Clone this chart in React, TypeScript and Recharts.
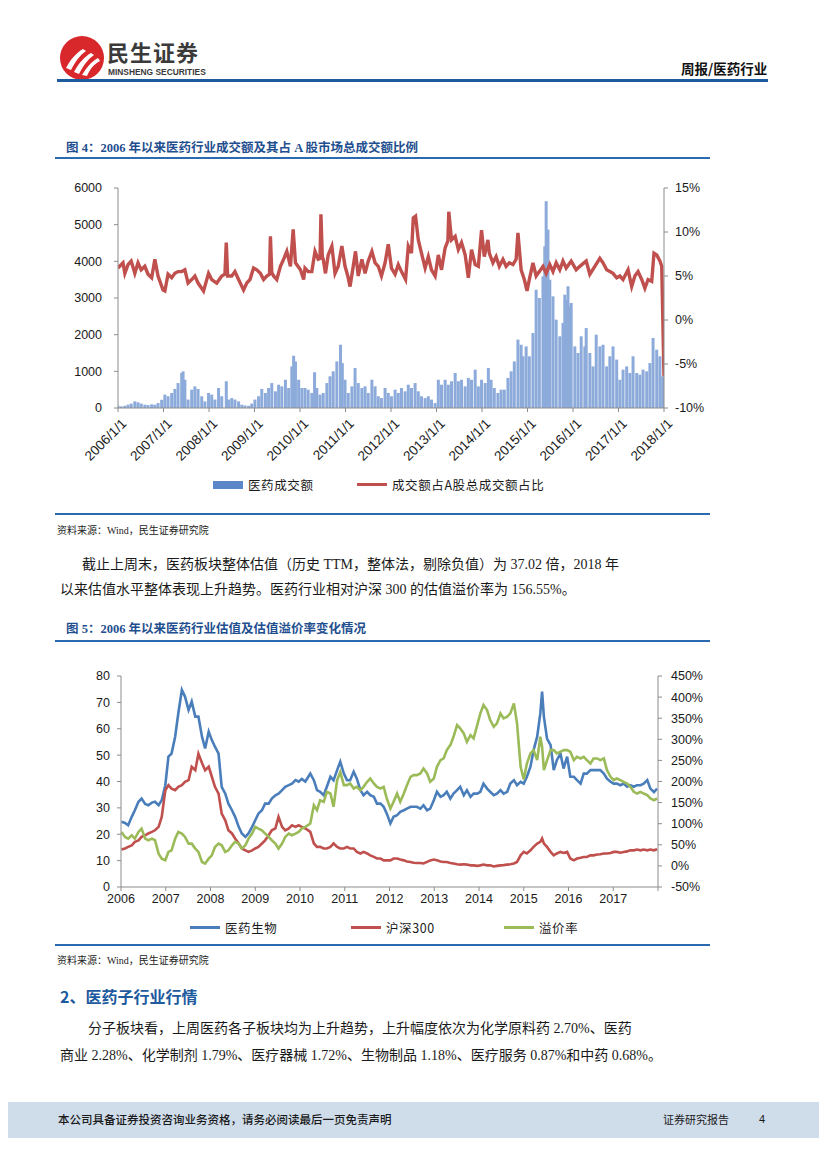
import React from "react";
import { ComposedChart, LineChart, Bar, Line, XAxis, YAxis } from "recharts";

// ---------- 图4: 医药成交额 (亿元) + 占A股成交额比例 (%) ----------
const amtT = [
  2006.0, 2006.07, 2006.15, 2006.22, 2006.29, 2006.37, 2006.44, 2006.51, 2006.59, 2006.66, 2006.74, 2006.81, 2006.88, 2006.96,
  2007.03, 2007.1, 2007.18, 2007.25, 2007.32, 2007.4, 2007.43, 2007.47, 2007.54, 2007.62, 2007.69, 2007.76, 2007.84, 2007.91, 2007.99,
  2008.06, 2008.13, 2008.21, 2008.28, 2008.38, 2008.43, 2008.5, 2008.57, 2008.65, 2008.72, 2008.79, 2008.87, 2008.94,
  2009.01, 2009.09, 2009.16, 2009.24, 2009.31, 2009.38, 2009.46, 2009.53, 2009.6, 2009.68, 2009.75, 2009.82, 2009.86, 2009.9, 2009.97,
  2010.04, 2010.11, 2010.18, 2010.26, 2010.32, 2010.37, 2010.44, 2010.51, 2010.59, 2010.66, 2010.73, 2010.81, 2010.89, 2010.93, 2010.99,
  2011.06, 2011.14, 2011.21, 2011.28, 2011.36, 2011.43, 2011.5, 2011.58, 2011.65, 2011.72, 2011.79, 2011.87, 2011.94,
  2012.01, 2012.09, 2012.16, 2012.23, 2012.31, 2012.38, 2012.45, 2012.53, 2012.6, 2012.67, 2012.75, 2012.82, 2012.89, 2012.97,
  2013.04, 2013.11, 2013.19, 2013.26, 2013.33, 2013.41, 2013.48, 2013.55, 2013.63, 2013.7, 2013.77, 2013.85, 2013.92, 2013.99,
  2014.07, 2014.14, 2014.2, 2014.27, 2014.35, 2014.42, 2014.49, 2014.57, 2014.64, 2014.71, 2014.79, 2014.86, 2014.9, 2014.97,
  2015.04, 2015.12, 2015.19, 2015.26, 2015.34, 2015.38, 2015.41, 2015.45, 2015.49, 2015.56, 2015.63, 2015.71, 2015.78, 2015.82, 2015.85, 2015.89, 2015.93, 2015.96,
  2016.04, 2016.11, 2016.18, 2016.26, 2016.29, 2016.37, 2016.44, 2016.51, 2016.59, 2016.66, 2016.74, 2016.81, 2016.88, 2016.96,
  2017.03, 2017.1, 2017.18, 2017.25, 2017.32, 2017.4, 2017.47, 2017.54, 2017.62, 2017.69, 2017.76, 2017.84, 2017.91, 2017.97,
];
const amtV = [
  60, 45, 60, 90, 120, 180, 155, 120, 90, 80, 100, 90, 135, 225,
  365, 320, 410, 520, 680, 955, 1000, 770, 230, 500, 590, 520, 320, 180, 410,
  365, 230, 545, 320, 730, 230, 270, 230, 180, 90, 70, 60, 120,
  230, 320, 520, 410, 545, 680, 455, 635, 590, 770, 545, 1135, 1425, 1270, 770,
  545, 545, 500, 410, 975, 545, 365, 410, 680, 865, 1000, 1270, 1725, 1225, 770,
  410, 590, 1090, 680, 545, 590, 410, 770, 590, 320, 270, 545, 410,
  320, 500, 410, 545, 455, 635, 545, 680, 455, 320, 270, 320, 230, 135,
  770, 635, 770, 635, 730, 955, 730, 770, 590, 820, 770, 1045, 590, 770,
  680, 1090, 770, 545, 410, 500, 500, 820, 1000, 1270, 1865, 1725, 1410, 1680,
  1410, 2045, 3225, 3000, 3590, 4410, 5640, 4865, 3500, 3045, 2410, 1955, 2320, 3090, 2955, 3320, 2775, 2865,
  1680, 1500, 1955, 1680, 2180, 1500, 1135, 2000, 1680, 1725, 1135, 1410, 1680, 1320,
  770, 1045, 1135, 955, 1410, 955, 910, 1045, 1000, 1225, 1910, 1590, 1410, 865,
];
const ratioT = [
  2006.0, 2006.11, 2006.15, 2006.22, 2006.29, 2006.37, 2006.44, 2006.51, 2006.59, 2006.66, 2006.74, 2006.81, 2006.88, 2006.99,
  2007.03, 2007.1, 2007.18, 2007.25, 2007.32, 2007.4, 2007.47, 2007.54, 2007.62, 2007.69, 2007.76, 2007.88, 2007.99,
  2008.06, 2008.17, 2008.28, 2008.35, 2008.38, 2008.41, 2008.5, 2008.57, 2008.65, 2008.76, 2008.83, 2008.9, 2008.98,
  2009.05, 2009.13, 2009.2, 2009.27, 2009.33, 2009.35, 2009.38, 2009.42, 2009.49, 2009.57, 2009.64, 2009.71, 2009.79, 2009.85, 2009.9,
  2010.01, 2010.08, 2010.11, 2010.18, 2010.26, 2010.33, 2010.4, 2010.44, 2010.46, 2010.49, 2010.51, 2010.56, 2010.62, 2010.7, 2010.77, 2010.84, 2010.92, 2010.99,
  2011.05, 2011.1, 2011.17, 2011.22, 2011.28, 2011.36, 2011.43, 2011.5, 2011.58, 2011.65, 2011.72, 2011.79, 2011.87, 2011.94,
  2012.01, 2012.09, 2012.16, 2012.23, 2012.32, 2012.38, 2012.45, 2012.49, 2012.54, 2012.6, 2012.67, 2012.75, 2012.82, 2012.89, 2012.97,
  2013.04, 2013.11, 2013.19, 2013.25, 2013.27, 2013.33, 2013.41, 2013.48, 2013.55, 2013.63, 2013.7, 2013.77, 2013.85, 2013.92, 2013.99,
  2014.05, 2014.13, 2014.16, 2014.24, 2014.31, 2014.38, 2014.46, 2014.53, 2014.6, 2014.68, 2014.75, 2014.79, 2014.86, 2014.93, 2014.99,
  2015.04, 2015.12, 2015.19, 2015.26, 2015.34, 2015.41, 2015.49, 2015.56, 2015.63, 2015.71, 2015.78, 2015.85, 2015.96,
  2016.07, 2016.15, 2016.29, 2016.37, 2016.48, 2016.59, 2016.66, 2016.74, 2016.81, 2016.88, 2016.96,
  2017.03, 2017.1, 2017.21, 2017.29, 2017.36, 2017.43, 2017.51, 2017.58, 2017.65, 2017.73, 2017.78, 2017.84, 2017.91, 2017.95,
  2018.0,
];
const ratioV = [
  5.9, 6.5, 5.3, 6.3, 6.7, 5.3, 6.5, 5.7, 6.1, 5.2, 4.8, 6.9, 5.0, 3.4,
  3.3, 5.2, 4.8, 5.3, 5.5, 5.5, 5.7, 4.2, 4.6, 5.0, 4.2, 3.3, 5.3,
  4.6, 4.2, 5.0, 5.2, 8.8, 5.0, 5.0, 5.5, 4.6, 3.4, 4.2, 4.6, 5.9,
  5.7, 5.3, 4.6, 5.0, 5.2, 9.5, 5.4, 5.0, 4.6, 6.1, 6.9, 7.8, 6.1, 10.3, 6.5,
  5.7, 4.6, 5.9, 5.5, 5.5, 7.8, 6.9, 7.0, 12.0, 7.2, 6.9, 5.3, 7.4, 8.4, 5.3, 6.1, 8.4, 6.1,
  5.0, 3.8, 6.1, 7.8, 5.0, 6.9, 5.3, 6.7, 7.8, 6.5, 6.1, 5.0, 6.5, 8.6,
  5.9, 5.2, 6.3, 5.5, 4.6, 8.4, 7.6, 11.6, 11.8, 9.1, 7.6, 5.9, 7.2, 5.7, 5.0,
  7.4, 5.7, 8.2, 9.0, 12.3, 9.1, 9.5, 8.0, 8.8, 7.4, 4.8, 8.0, 6.3, 6.1, 10.2,
  7.2, 9.1, 7.6, 6.5, 7.2, 6.1, 6.9, 6.1, 6.5, 6.3, 6.9, 9.9, 5.7, 4.6, 3.3,
  4.6, 6.5, 5.0, 5.5, 6.1, 5.3, 6.3, 5.5, 6.5, 5.7, 6.7, 5.9, 6.7,
  5.7, 6.1, 6.7, 5.2, 6.1, 7.0, 6.5, 5.7, 5.5, 5.3, 4.8,
  5.0, 4.6, 5.7, 3.8, 5.0, 5.5, 4.6, 3.6, 4.6, 4.4, 7.6, 7.4, 6.7, 6.1,
  -6.4,
];

// ---------- 图5: 估值 (PE) 与溢价率 (%) ----------
const valT = [
  2006.01, 2006.09, 2006.16, 2006.24, 2006.31, 2006.39, 2006.46, 2006.54, 2006.61, 2006.69, 2006.76, 2006.84, 2006.91, 2006.99,
  2007.06, 2007.13, 2007.21, 2007.28, 2007.36, 2007.43, 2007.51, 2007.58, 2007.66, 2007.73, 2007.81, 2007.88, 2007.96,
  2008.03, 2008.1, 2008.18, 2008.25, 2008.33, 2008.4, 2008.48, 2008.55, 2008.63, 2008.7, 2008.78, 2008.85, 2008.93,
  2009.0, 2009.07, 2009.15, 2009.22, 2009.3, 2009.37, 2009.45, 2009.52, 2009.6, 2009.67, 2009.75, 2009.82, 2009.9, 2009.97,
  2010.04, 2010.12, 2010.23, 2010.31, 2010.38, 2010.45, 2010.53, 2010.6, 2010.68, 2010.75, 2010.83, 2010.9, 2010.98,
  2011.05, 2011.12, 2011.2, 2011.27, 2011.35, 2011.42, 2011.5, 2011.57, 2011.65, 2011.72, 2011.8, 2011.87, 2011.94,
  2012.02, 2012.09, 2012.17, 2012.24, 2012.32, 2012.39, 2012.47, 2012.54, 2012.61, 2012.69, 2012.76, 2012.84, 2012.91, 2012.99,
  2013.06, 2013.14, 2013.21, 2013.28, 2013.36, 2013.43, 2013.51, 2013.58, 2013.66, 2013.73, 2013.81, 2013.88, 2013.96,
  2014.03, 2014.1, 2014.18, 2014.25, 2014.33, 2014.4, 2014.48, 2014.55, 2014.63, 2014.7, 2014.78, 2014.85, 2014.93,
  2015.0, 2015.07, 2015.15, 2015.22, 2015.3, 2015.37, 2015.41, 2015.45, 2015.52, 2015.6, 2015.67, 2015.74, 2015.82, 2015.89, 2015.97,
  2016.04, 2016.12, 2016.19, 2016.27, 2016.34, 2016.41, 2016.49, 2016.56, 2016.64, 2016.71, 2016.79, 2016.86, 2016.94,
  2017.01, 2017.08, 2017.16, 2017.23, 2017.31, 2017.38, 2017.46, 2017.53, 2017.61, 2017.68, 2017.76, 2017.83, 2017.91, 2017.98,
];
const pharmaPE = [
  24.7, 24.3, 23.4, 26.6, 29.1, 32.3, 33.5, 31.5, 31.0, 32.0, 32.3, 31.0, 32.9, 38.6,
  49.4, 50.6, 57.0, 65.8, 74.7, 72.2, 67.1, 70.3, 64.6, 64.6, 57.0, 52.5, 58.9,
  55.7, 53.2, 50.6, 38.0, 35.4, 31.6, 29.1, 26.6, 22.8, 20.3, 19.0, 20.3, 22.8,
  25.3, 27.8, 29.1, 31.6, 31.6, 33.5, 34.8, 35.4, 36.7, 38.0, 38.6, 39.2, 40.5, 39.9,
  41.0, 40.0, 43.0, 40.5, 36.7, 36.1, 34.8, 38.0, 41.8, 40.5, 44.3, 47.5, 43.0,
  40.5, 40.5, 43.7, 41.1, 36.7, 34.8, 36.1, 34.8, 34.2, 31.6, 31.6, 30.4, 27.8,
  24.1, 26.6, 27.2, 28.5, 29.1, 29.7, 30.4, 30.4, 30.4, 29.7, 31.0, 29.1, 29.7, 32.9,
  36.1, 34.2, 34.8, 36.1, 33.5, 35.4, 36.7, 38.0, 34.8, 36.7, 34.2, 35.4, 35.4,
  36.1, 39.2, 37.3, 36.1, 34.8, 35.4, 36.7, 35.4, 36.1, 39.2, 40.5, 38.6, 39.9,
  39.2, 41.8, 45.6, 51.9, 57.0, 65.8, 74.1, 64.6, 56.3, 53.8, 44.3, 48.1, 50.6, 44.9, 49.4,
  41.8, 41.8, 40.5, 39.2, 43.0, 43.0, 44.3, 44.3, 44.3, 44.3, 43.0, 41.1, 39.9,
  39.2, 39.2, 38.6, 39.2, 38.0, 38.6, 38.0, 38.6, 38.6, 39.2, 40.5, 37.3, 36.0, 37.3,
];
const hs300PE = [
  14.2, 14.6, 15.2, 15.8, 17.1, 17.7, 19.0, 19.6, 20.3, 20.9, 21.5, 22.8, 26.6, 36.7,
  38.6, 37.3, 36.7, 38.0, 38.6, 39.9, 40.5, 45.6, 44.3, 50.5, 47.0, 44.3, 45.6,
  41.8, 38.0, 35.4, 27.8, 25.3, 21.5, 20.3, 18.4, 16.5, 14.6, 13.9, 13.3, 13.9,
  14.6, 15.2, 16.5, 17.7, 19.6, 21.5, 22.2, 26.6, 22.8, 21.5, 22.2, 23.4, 22.8, 23.4,
  22.8, 22.2, 20.9, 16.5, 15.2, 15.2, 14.6, 14.6, 15.2, 16.5, 15.2, 14.6, 14.6,
  15.2, 14.6, 14.6, 13.3, 12.7, 13.3, 12.7, 12.0, 11.4, 10.8, 10.8, 10.1, 10.1,
  10.1, 10.8, 10.8, 10.4, 10.1, 9.7, 9.5, 9.2, 9.1, 9.1, 8.9, 9.5, 10.1, 10.4,
  10.1, 9.7, 9.5, 9.5, 9.1, 8.9, 8.6, 8.5, 8.6, 8.5, 8.2, 8.2, 8.0,
  8.2, 8.5, 8.2, 8.2, 7.8, 8.0, 8.2, 8.3, 8.5, 8.6, 8.9, 9.5, 12.0,
  13.3, 12.7, 13.9, 15.2, 16.5, 17.1, 18.4, 16.5, 15.2, 13.3, 12.0, 12.7, 13.3, 12.9, 13.3,
  10.8, 10.1, 10.8, 11.1, 11.4, 11.4, 12.0, 12.0, 12.3, 12.4, 12.7, 12.7, 12.9,
  13.3, 13.3, 13.0, 13.3, 13.5, 13.9, 13.9, 14.2, 13.9, 14.2, 13.9, 14.2, 13.9, 14.3,
];
const premium = [
  80.5, 68.7, 64.7, 72.6, 64.7, 80.5, 88.4, 64.7, 60.8, 64.7, 60.8, 29.1, 17.2, 13.3,
  33.1, 37.0, 64.7, 80.5, 76.6, 68.7, 52.8, 52.8, 41.0, 33.1, 9.3, 5.4, 17.2,
  25.2, 44.9, 52.8, 48.9, 33.1, 37.0, 48.9, 56.8, 52.8, 41.0, 48.9, 64.7, 76.6,
  92.4, 88.4, 84.5, 76.6, 68.7, 60.8, 52.8, 41.0, 52.8, 68.7, 76.6, 72.6, 76.6, 80.5,
  88.4, 92.4, 100.3, 143.8, 132.0, 155.7, 151.7, 175.5, 171.5, 140.0, 203.2, 222.0, 191.3,
  191.3, 195.3, 183.4, 187.3, 179.4, 187.3, 199.2, 207.1, 195.3, 187.3, 183.4, 187.3, 159.7,
  135.9, 151.7, 171.5, 151.7, 171.5, 191.3, 211.1, 215.0, 215.0, 219.0, 230.8, 219.0, 199.2, 207.1,
  234.8, 250.6, 254.6, 274.4, 286.2, 306.0, 333.7, 325.8, 313.9, 294.0, 309.9, 302.0, 333.7,
  361.4, 381.2, 369.3, 345.6, 329.7, 337.7, 361.4, 349.5, 353.5, 361.4, 385.1, 337.7, 234.8,
  205.0, 242.7, 266.5, 274.4, 250.6, 306.0, 282.3, 226.9, 250.0, 274.4, 274.4, 266.5, 270.4, 274.4, 274.4,
  270.4, 250.6, 258.5, 254.6, 258.5, 250.6, 242.7, 254.6, 254.6, 250.6, 254.6, 226.9, 211.1,
  203.2, 207.1, 203.2, 199.2, 195.3, 187.3, 175.5, 171.5, 175.5, 171.5, 167.6, 159.7, 155.7, 159.7,
];

const yearTicks = [2006, 2007, 2008, 2009, 2010, 2011, 2012, 2013, 2014, 2015, 2016, 2017, 2018];
const amtTicks = [0, 1000, 2000, 3000, 4000, 5000, 6000];
const ratioTicks = [-10, -5, 0, 5, 10, 15];
const peTicks = [0, 10, 20, 30, 40, 50, 60, 70, 80];
const premTicks = [-50, 0, 50, 100, 150, 200, 250, 300, 350, 400, 450];

const fig4Rows = [
  ...amtT.map((t, i) => ({ t, amt: amtV[i] })),
  ...ratioT.map((t, i) => ({ t, pct: ratioV[i] })),
].sort((a, b) => a.t - b.t);

const fig5Rows = valT.map((t, i) => ({
  t,
  pharma: pharmaPE[i],
  hs300: hs300PE[i],
  premium: premium[i],
}));

// fonts / colours
const AXIS_FONT = '"Liberation Sans", Arial, sans-serif';
const TEXT_FONT = '"Liberation Serif", "Noto Sans CJK SC", serif';
const CJK_FONT = '"Noto Sans CJK SC", sans-serif';
const AXIS = "#8c8c8c";
const BLUE_RULE = "#2a6ab0";
const TITLE_BLUE = "#1f4f8f";
const tickStyle = { fontSize: 12.5, fill: "#1a1a1a", fontFamily: AXIS_FONT };

// thin weekly-style bar, centred on its date
const ThinBar = (p: any) => {
  const { x, y, width, height } = p;
  if (!Number.isFinite(height) || height <= 0 || !Number.isFinite(x)) return null;
  const cx = x + (Number.isFinite(width) ? width / 2 : 0);
  return <rect x={cx - 1.5} y={y} width={3} height={height} fill="#8dabda" />;
};

const SlantTick = (p: any) => {
  const { x, y, payload } = p;
  return (
    <g transform={`translate(${x + 6},${y + 7})`}>
      <text transform="rotate(-45)" textAnchor="end" dy="0.35em" fontSize={13.5} fill="#1a1a1a" fontFamily={AXIS_FONT}>
        {`${payload.value}/1/1`}
      </text>
    </g>
  );
};

const abs = (left: number, top: number, extra: React.CSSProperties = {}): React.CSSProperties => ({
  position: "absolute",
  left,
  top,
  whiteSpace: "nowrap",
  lineHeight: 1.2,
  ...extra,
});

const Rule = ({ top, left = 55, width = 655, h = 1.5, color = BLUE_RULE }: any) => (
  <div style={abs(left, top, { width, height: h, background: color })} />
);

const LegendItem = ({ left, top, color, label, box }: any) => (
  <div style={abs(left, top, { display: "flex", alignItems: "center", fontFamily: CJK_FONT, fontSize: 12.5, color: "#1a1a1a", letterSpacing: 0.6 })}>
    <span style={{ display: "inline-block", width: 30, height: box ? 8 : 3, background: color, marginRight: 5 }} />
    {label}
  </div>
);

const Logo = () => (
  <svg width={46} height={46} style={abs(59, 35)}>
    <circle cx={23} cy={23} r={22} fill="#d8282b" />
    <path d="M7 33 C12 24 17 18 24 14 L27 16 C21 20 16 27 12 35 Z" fill="#fff" />
    <path d="M15 37 C20 28 25 22 32 18 L35 20 C29 24 24 31 20 39 Z" fill="#fff" />
    <path d="M23 40 C28 32 32 27 39 23 L41 26 C35 29 31 34 28 41 Z" fill="#fff" />
  </svg>
);

export default function App() {
  return (
    <div style={{ position: "relative", width: 827, height: 1169, margin: -8, background: "#fff", overflow: "hidden", color: "#1a1a1a" }}>
      {/* header */}
      <Logo />
      <div style={abs(107, 40, { fontFamily: CJK_FONT, fontWeight: 700, fontSize: 22, lineHeight: 1, color: "#3a3a3a", letterSpacing: 1 })}>民生证券</div>
      <div style={abs(108, 68, { fontFamily: AXIS_FONT, fontWeight: 700, fontSize: 8.4, lineHeight: 1, color: "#3a3a3a" })}>MINSHENG SECURITIES</div>
      <div style={abs(681, 62, { fontFamily: CJK_FONT, fontWeight: 700, fontSize: 13.5, lineHeight: 1, color: "#111" })}>周报/医药行业</div>
      <Rule top={79} left={57} width={711} h={3} color="#1d5a9e" />

      {/* figure 4 */}
      <div style={abs(66, 141, { fontFamily: TEXT_FONT, fontWeight: 700, fontSize: 12.5, color: TITLE_BLUE })}>
        图 4：2006 年以来医药行业成交额及其占 A 股市场总成交额比例
      </div>
      <Rule top={157} />
      <div style={abs(50, 180)}>
        <ComposedChart width={680} height={298} data={fig4Rows} margin={{ top: 8, right: 10, bottom: 0, left: 0 }}>
          <XAxis
            type="number"
            dataKey="t"
            domain={[2006, 2018]}
            ticks={yearTicks}
            interval={0}
            allowDataOverflow
            height={70}
            tick={<SlantTick />}
            axisLine={{ stroke: AXIS }}
            tickLine={{ stroke: AXIS }}
            tickSize={4}
          />
          <YAxis
            yAxisId="amt"
            domain={[0, 6000]}
            ticks={amtTicks}
            interval={0}
            width={68}
            tick={tickStyle}
            axisLine={{ stroke: AXIS }}
            tickLine={{ stroke: AXIS }}
            tickSize={4}
            tickMargin={12}
          />
          <YAxis
            yAxisId="pct"
            orientation="right"
            domain={[-10, 15]}
            ticks={ratioTicks}
            interval={0}
            width={56}
            tick={tickStyle}
            tickFormatter={(v) => `${v}%`}
            axisLine={{ stroke: AXIS }}
            tickLine={{ stroke: AXIS }}
            tickSize={4}
            tickMargin={7}
          />
          <Bar yAxisId="amt" dataKey="amt" shape={ThinBar} isAnimationActive={false} />
          <Line
            yAxisId="pct"
            dataKey="pct"
            type="linear"
            stroke="#c0504d"
            strokeWidth={3.4}
            dot={false}
            connectNulls
            isAnimationActive={false}
          />
        </ComposedChart>
      </div>
      <LegendItem left={213} top={477} color="#5b87c9" label="医药成交额" box />
      <LegendItem left={357} top={477} color="#c0504d" label="成交额占A股总成交额占比" />
      <Rule top={513} />
      <div style={abs(57, 525, { fontFamily: TEXT_FONT, fontSize: 10, color: "#222" })}>资料来源：Wind，民生证券研究院</div>

      {/* paragraph */}
      <div style={abs(82, 557, { fontFamily: TEXT_FONT, fontSize: 14 })}>
        截止上周末，医药板块整体估值（历史 TTM，整体法，剔除负值）为 37.02 倍，2018 年
      </div>
      <div style={abs(60, 582, { fontFamily: TEXT_FONT, fontSize: 14 })}>
        以来估值水平整体表现上升趋势。医药行业相对沪深 300 的估值溢价率为 156.55%。
      </div>

      {/* figure 5 */}
      <div style={abs(66, 622, { fontFamily: TEXT_FONT, fontWeight: 700, fontSize: 12.5, color: TITLE_BLUE })}>
        图 5：2006 年以来医药行业估值及估值溢价率变化情况
      </div>
      <Rule top={640} />
      <div style={abs(50, 668)}>
        <LineChart width={680} height={249} data={fig5Rows} margin={{ top: 8, right: 10, bottom: 0, left: 0 }}>
          <XAxis
            type="number"
            dataKey="t"
            domain={[2006, 2018]}
            ticks={yearTicks}
            interval={0}
            allowDataOverflow
            height={30}
            tick={tickStyle}
            tickFormatter={(v) => (v === 2018 ? "" : String(v))}
            axisLine={{ stroke: AXIS }}
            tickLine={{ stroke: AXIS }}
            tickSize={4}
            tickMargin={3}
          />
          <YAxis
            yAxisId="pe"
            domain={[0, 80]}
            ticks={peTicks}
            interval={0}
            width={71}
            tick={tickStyle}
            axisLine={{ stroke: AXIS }}
            tickLine={{ stroke: AXIS }}
            tickSize={4}
            tickMargin={7}
          />
          <YAxis
            yAxisId="prem"
            orientation="right"
            domain={[-50, 450]}
            ticks={premTicks}
            interval={0}
            width={62}
            tick={tickStyle}
            tickFormatter={(v) => `${v}%`}
            axisLine={{ stroke: AXIS }}
            tickLine={{ stroke: AXIS }}
            tickSize={4}
            tickMargin={9}
          />
          <Line yAxisId="pe" dataKey="pharma" type="linear" stroke="#4a7ebb" strokeWidth={2.6} dot={false} isAnimationActive={false} />
          <Line yAxisId="pe" dataKey="hs300" type="linear" stroke="#c0504d" strokeWidth={2.6} dot={false} isAnimationActive={false} />
          <Line yAxisId="prem" dataKey="premium" type="linear" stroke="#9bbb59" strokeWidth={2.6} dot={false} isAnimationActive={false} />
        </LineChart>
      </div>
      <LegendItem left={190} top={920} color="#4a7ebb" label="医药生物" />
      <LegendItem left={351} top={920} color="#c0504d" label="沪深300" />
      <LegendItem left={504} top={920} color="#9bbb59" label="溢价率" />
      <Rule top={944} />
      <div style={abs(57, 955, { fontFamily: TEXT_FONT, fontSize: 10, color: "#222" })}>资料来源：Wind，民生证券研究院</div>

      {/* section 2 */}
      <div style={abs(60, 987, { fontFamily: CJK_FONT, fontWeight: 700, fontSize: 16, color: "#1d5a9e" })}>2、医药子行业行情</div>
      <div style={abs(88, 1021, { fontFamily: TEXT_FONT, fontSize: 14 })}>
        分子板块看，上周医药各子板块均为上升趋势，上升幅度依次为化学原料药 2.70%、医药
      </div>
      <div style={abs(60, 1048, { fontFamily: TEXT_FONT, fontSize: 14 })}>
        商业 2.28%、化学制剂 1.79%、医疗器械 1.72%、生物制品 1.18%、医疗服务 0.87%和中药 0.68%。
      </div>

      {/* footer */}
      <div style={abs(0, 1102, { width: 827, height: 36, background: "#cfdcea" })} />
      <div style={abs(58, 1113, { fontFamily: CJK_FONT, fontSize: 11.5, fontWeight: 500, color: "#1a1a1a" })}>
        本公司具备证券投资咨询业务资格，请务必阅读最后一页免责声明
      </div>
      <div style={abs(663, 1113, { fontFamily: CJK_FONT, fontSize: 11, color: "#1a1a1a" })}>证券研究报告</div>
      <div style={abs(759, 1113, { fontFamily: AXIS_FONT, fontSize: 11, color: "#1a1a1a" })}>4</div>
    </div>
  );
}
